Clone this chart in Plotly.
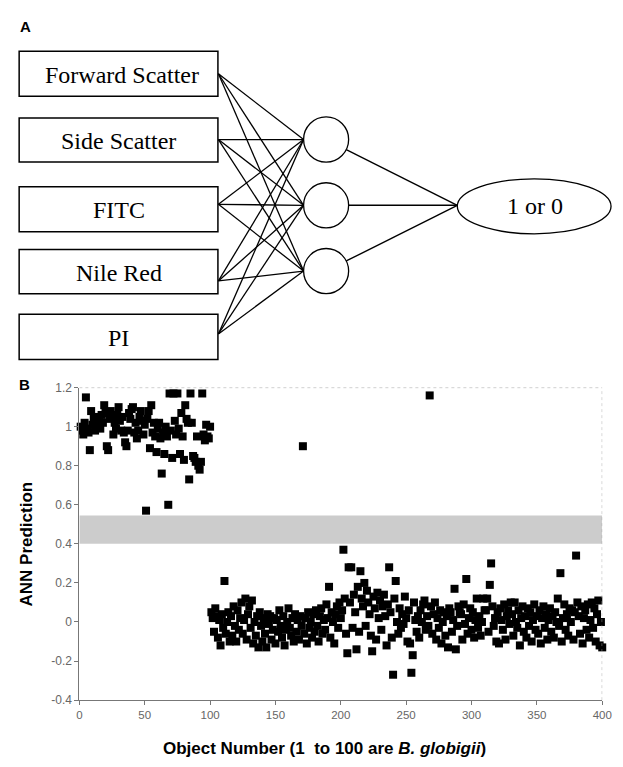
import plotly.graph_objects as go

# ---------------- data ----------------
input_labels = ["Forward Scatter", "Side Scatter", "FITC", "Nile Red", "PI"]
output_label = "1 or 0"

# ANN prediction for objects 1-100 (B. globigii)
bg_pred = [
    1.00, 0.98, 0.96, 1.02, 1.15, 0.99, 0.97, 0.88, 1.08, 1.01,
    1.04, 0.98, 1.00, 1.05, 1.03, 0.99, 1.06, 1.02, 1.11, 1.07,
    0.90, 0.88, 1.04, 1.08, 1.05, 0.96, 1.02, 0.99, 1.06, 1.10,
    1.03, 0.98, 1.05, 0.97, 0.92, 0.90, 0.98, 1.07, 1.04, 1.09,
    1.10, 0.97, 1.02, 0.94, 0.98, 1.05, 1.08, 1.03, 0.96, 1.01,
    0.57, 1.04, 1.08, 0.89, 1.11, 0.97, 1.02, 0.95, 0.87, 0.99,
    1.02, 0.94, 0.76, 0.97, 0.86, 1.00, 0.95, 0.60, 1.17, 0.98,
    0.84, 1.17, 1.03, 0.96, 1.17, 0.99, 0.86, 1.07, 0.95, 0.83,
    1.11, 1.04, 1.02, 0.73, 1.17, 1.02, 0.85, 0.84, 0.82, 0.95,
    0.80, 0.78, 0.82, 1.17, 0.96, 0.93, 1.01, 0.95, 0.94, 1.00,
]
# ANN prediction for objects 101-400 (other particles)
other_pred = [
    0.05, 0.02, -0.05, 0.07, 0.03, -0.08, 0.01, -0.12, 0.04, -0.03,
    0.21, -0.06, 0.00, 0.05, -0.10, 0.03, -0.07, 0.08, -0.02, -0.10,
    0.06, -0.04, 0.02, 0.10, -0.06, 0.01, 0.12, -0.09, 0.04, 0.08,
    -0.03, 0.11, -0.11, 0.00, -0.07, 0.03, -0.13, 0.05, -0.02, -0.10,
    0.02, -0.06, -0.13, 0.04, -0.01, 0.03, -0.09, -0.04, 0.02, -0.11,
    0.01, -0.05, 0.06, -0.02, -0.08, 0.03, -0.12, -0.04, 0.00, 0.07,
    -0.03, -0.07, 0.02, -0.10, 0.04, -0.05, 0.01, -0.09, 0.03, -0.02,
    0.90, -0.06, 0.02, -0.11, 0.05, -0.03, 0.00, -0.08, 0.04, -0.05,
    0.06, -0.02, -0.10, 0.03, 0.07, -0.06, 0.01, -0.04, 0.09, 0.02,
    0.18, -0.08, 0.05, 0.00, -0.11, 0.04, 0.08, -0.03, 0.10, 0.02,
    0.06, 0.37, 0.12, -0.06, -0.16, 0.28, 0.10, 0.28, -0.03, 0.14,
    0.05, -0.14, 0.18, -0.05, 0.26, 0.12, 0.08, 0.20, -0.02, 0.16,
    0.10, 0.04, -0.07, -0.15, 0.13, 0.07, -0.09, 0.15, 0.02, 0.11,
    -0.04, 0.08, 0.14, 0.03, -0.12, 0.09, 0.28, 0.05, -0.08, -0.27,
    0.12, 0.21, 0.00, -0.06, 0.07, -0.03, 0.04, -0.01, 0.13, 0.02,
    -0.10, 0.06, -0.11, -0.26, -0.17, 0.10, 0.01, -0.05, 0.03, -0.08,
    0.06, 0.00, 0.09, 0.11, -0.04, 0.03, -0.02, 1.16, 0.08, -0.06,
    0.04, 0.10, -0.09, 0.02, -0.03, 0.06, -0.11, 0.00, 0.05, -0.07,
    0.03, -0.13, 0.07, 0.05, -0.05, 0.01, 0.17, -0.14, -0.02, 0.08,
    0.05, 0.04, -0.09, 0.09, -0.01, 0.22, -0.06, 0.02, 0.07, -0.04,
    0.05, -0.08, 0.01, 0.12, -0.03, 0.03, -0.07, 0.00, 0.12, 0.06,
    0.06, 0.12, -0.05, 0.19, 0.30, 0.08, -0.02, 0.02, -0.10, 0.05,
    -0.11, 0.07, 0.01, -0.04, 0.09, -0.09, 0.03, 0.06, -0.01, 0.10,
    0.04, -0.07, 0.10, 0.00, -0.03, 0.06, -0.12, 0.02, 0.08, -0.05,
    0.03, -0.08, 0.07, -0.02, 0.05, -0.10, 0.01, 0.09, -0.04, 0.03,
    -0.06, 0.06, -0.11, 0.02, 0.08, -0.03, 0.04, -0.09, 0.01, 0.07,
    -0.05, 0.03, -0.08, 0.05, 0.00, 0.12, -0.02, 0.25, -0.10, 0.02,
    0.09, -0.04, 0.04, -0.07, 0.07, 0.00, 0.06, -0.09, 0.05, 0.34,
    0.10, 0.03, -0.06, 0.08, -0.11, 0.02, 0.06, -0.04, 0.09, -0.08,
    0.01, 0.10, -0.03, 0.07, -0.10, 0.04, 0.11, -0.12, 0.00, -0.13,
]
predictions = bg_pred + other_pred
object_numbers = list(range(1, len(predictions) + 1))

band_low, band_high = 0.40, 0.545
x_ticks = [0, 50, 100, 150, 200, 250, 300, 350, 400]
y_ticks = [-0.4, -0.2, 0, 0.2, 0.4, 0.6, 0.8, 1, 1.2]
y_ticktext = ["-0.4", "-0.2", "0", "0.2", "0.4", "0.6", "0.8", "1", "1.2"]

# ---------------- layout helpers (pixel -> paper) ----------------
W, H = 623, 767
def fx(x):
    return x / W
def fy(y):
    return 1 - y / H

SERIF = "Liberation Serif, Times New Roman, serif"
SANS = "Liberation Sans, Arial, sans-serif"

shapes = []
annotations = []

def label(x, y, text, font, angle=0):
    annotations.append(dict(x=fx(x), y=fy(y), xref="paper", yref="paper", text=text,
                            showarrow=False, xanchor="center", yanchor="middle",
                            textangle=angle, font=font))

# input boxes
box_rows = [(45, 91), (113, 158), (183, 229), (247, 292), (313, 359)]
origin_y = [68, 135, 201, 279, 333]
text_cx = [122, 118, 118, 118, 118]
bx0, bx1 = 16.5, 219.5
for (t, b), lab, cx in zip(box_rows, input_labels, text_cx):
    shapes.append(dict(type="rect", xref="paper", yref="paper",
                       x0=fx(bx0), x1=fx(bx1), y0=fy(b), y1=fy(t),
                       line=dict(color="black", width=1.5), fillcolor="white"))
    label(cx, (t + b) / 2 + 1, lab, dict(family=SERIF, size=24, color="black"))

# hidden nodes
hid_cx, hid_r = 330, 23
hid_cy = [135, 202, 269]
out_cx, out_cy, out_rx, out_ry = 542.5, 203, 78.5, 28
out_left = (out_cx - out_rx, out_cy - 1)

# input -> hidden connections
for oy in origin_y:
    for hy in hid_cy:
        shapes.append(dict(type="line", xref="paper", yref="paper",
                           x0=fx(220), y0=fy(oy), x1=fx(hid_cx - hid_r), y1=fy(hy),
                           line=dict(color="black", width=1.3)))
# hidden -> output
for hy in hid_cy:
    dx, dy = out_left[0] - hid_cx, out_left[1] - hy
    L = (dx * dx + dy * dy) ** 0.5
    sx, sy = hid_cx + hid_r * dx / L, hy + hid_r * dy / L
    shapes.append(dict(type="line", xref="paper", yref="paper",
                       x0=fx(sx), y0=fy(sy), x1=fx(out_left[0]), y1=fy(out_left[1]),
                       line=dict(color="black", width=1.4)))
for hy in hid_cy:
    shapes.append(dict(type="circle", xref="paper", yref="paper",
                       x0=fx(hid_cx - hid_r), x1=fx(hid_cx + hid_r),
                       y0=fy(hy + hid_r), y1=fy(hy - hid_r),
                       line=dict(color="black", width=1.3), fillcolor="white"))
shapes.append(dict(type="circle", xref="paper", yref="paper",
                   x0=fx(out_cx - out_rx), x1=fx(out_cx + out_rx),
                   y0=fy(out_cy + out_ry), y1=fy(out_cy - out_ry),
                   line=dict(color="black", width=1.3), fillcolor="white"))
label(out_cx + 1, out_cy, output_label, dict(family=SERIF, size=24, color="black"))

# panel letters
label(23, 20, "<b>A</b>", dict(family=SANS, size=15, color="black"))
label(22, 385, "<b>B</b>", dict(family=SANS, size=15, color="black"))

# axis titles
label(24, 547, "<b>ANN Prediction</b>", dict(family=SANS, size=17, color="black"), angle=-90)
label(328, 755, "<b>Object Number (1 \u00a0to 100 are <i>B. globigii</i>)</b>",
      dict(family=SANS, size=17, color="black"))

# plot-area decorations
shapes.append(dict(type="rect", xref="x", yref="y", x0=0, x1=400, y0=band_low, y1=band_high,
                   fillcolor="#cccccc", line=dict(width=0), layer="below"))
shapes.append(dict(type="line", xref="x", yref="y", x0=0, x1=400, y0=1.2, y1=1.2,
                   line=dict(color="#aaaaaa", width=1, dash="dot")))
shapes.append(dict(type="line", xref="x", yref="y", x0=400, x1=400, y0=-0.4, y1=1.2,
                   line=dict(color="#aaaaaa", width=1, dash="dot")))

fig = go.Figure()
fig.add_trace(go.Scatter(x=object_numbers, y=predictions, mode="markers",
                         marker=dict(symbol="square", size=8, color="black", line=dict(width=0)),
                         cliponaxis=False, showlegend=False, hoverinfo="x+y"))

plot_x0, plot_x1 = 78, 612
plot_top, plot_bot = 387.7, 706
fig.update_layout(
    width=W, height=H,
    margin=dict(l=0, r=0, t=0, b=0),
    paper_bgcolor="white", plot_bgcolor="rgba(0,0,0,0)",
    showlegend=False,
    shapes=shapes, annotations=annotations,
    xaxis=dict(domain=[fx(plot_x0), fx(plot_x1)], range=[0, 400], tickvals=x_ticks,
               ticks="outside", ticklen=4, tickcolor="#777", showline=True,
               linecolor="#777", linewidth=1, showgrid=False, zeroline=False,
               tickfont=dict(family=SANS, size=11.5, color="#666")),
    yaxis=dict(domain=[fy(plot_bot), fy(plot_top)], range=[-0.4, 1.2], tickvals=y_ticks,
               ticktext=y_ticktext, ticks="outside", ticklen=4, tickcolor="#777",
               showline=True, linecolor="#777", linewidth=1, showgrid=False, zeroline=False,
               tickfont=dict(family=SANS, size=12, color="#666")),
)

fig.write_html("out.html", config={"displayModeBar": False},
               post_script="document.body.style.margin='0px';document.body.style.overflow='hidden';")
